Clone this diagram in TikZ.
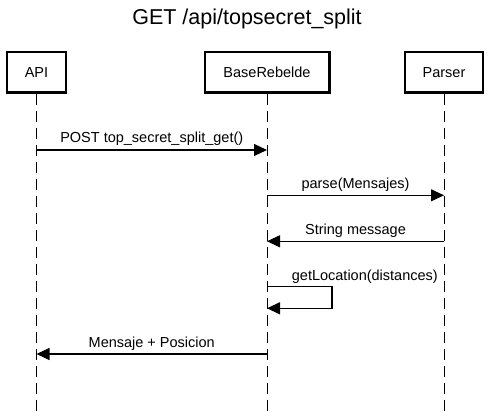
\documentclass[tikz,border=0pt]{standalone}
\usepackage{fontspec}
\setmainfont{Liberation Sans}
\usetikzlibrary{arrows.meta}

\begin{document}
\begin{tikzpicture}[x=1pt, y=-1pt,
    actor/.style={draw, line width=2.4pt, minimum height=40.6pt, inner sep=0pt, font=\fontsize{14.5}{17}\selectfont},
    lifeline/.style={line width=1pt, dash pattern=on 11pt off 6pt},
    msg/.style={line width=1.1pt, -{Triangle[length=13pt, width=12pt]}},
    lbl/.style={anchor=base, yshift=7pt, font=\fontsize{14.5}{17}\selectfont}]
    \useasboundingbox (0,0) rectangle (492,411);

    % Title
    \node[anchor=base, font=\fontsize{21.5}{25}\selectfont] (title) at (247,25) {GET /api/topsecret\_split};

    % Actors
    \node[actor, minimum width=58.6pt] (api) at (36.5,72.4) {API};
    \node[actor, minimum width=124.6pt] (base) at (267,72.4) {BaseRebelde};
    \node[actor, minimum width=77.6pt] (parser) at (444,72.4) {Parser};

    % Lifelines
    \coordinate (bottom) at (0,411);
    \foreach \a in {api, base, parser}
        \draw[lifeline] (\a.south) -- (\a |- bottom);

    % Message rows
    \coordinate (r1) at (0,150);
    \coordinate (r2) at (0,195.3);
    \coordinate (r3) at (0,241.3);
    \coordinate (r4) at (0,286.7);
    \coordinate (r4b) at (0,308.3);
    \coordinate (r5) at (0,354);

    % Messages
    \draw[msg] (api |- r1) -- node[lbl] {POST top\_secret\_split\_get()} (base |- r1);
    \draw[msg] (base |- r2) -- node[lbl] {parse(Mensajes)} (parser |- r2);
    \draw[msg] (parser |- r3) -- node[lbl] {String message} (base |- r3);
    \draw[msg] (base |- r4) node[lbl, anchor=base west, xshift=21pt, yshift=-1pt] {getLocation(distances)}
        -- ++(65,0) -- ++(0,21.6) -- (base |- r4b);
    \draw[msg] (base |- r5) -- node[lbl] {Mensaje + Posicion} (api |- r5);
\end{tikzpicture}
\end{document}
